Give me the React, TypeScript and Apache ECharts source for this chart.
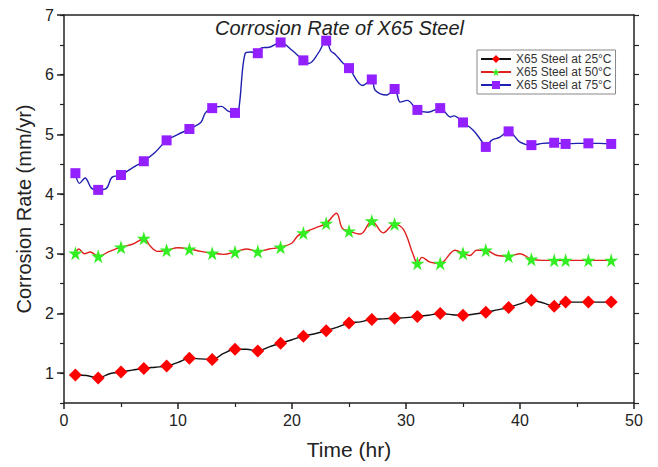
import React, { useEffect, useRef } from "react";
import * as echarts from "echarts";

// Marker positions (hours) shared by all three series
const markerHours = [1, 3, 5, 7, 9, 11, 13, 15, 17, 19, 21, 23, 25, 27, 29, 31, 33, 35, 37, 39, 41, 43, 44, 46, 48];

// Marker values (mm/yr)
const rate25 = [0.97, 0.92, 1.02, 1.08, 1.12, 1.25, 1.23, 1.40, 1.37, 1.50, 1.62, 1.71, 1.84, 1.90, 1.92, 1.95, 2.00, 1.97, 2.02, 2.10, 2.22, 2.12, 2.19, 2.19, 2.19];
const rate50 = [3.01, 2.96, 3.11, 3.26, 3.06, 3.08, 3.01, 3.03, 3.04, 3.11, 3.35, 3.51, 3.38, 3.55, 3.50, 2.84, 2.84, 3.01, 3.06, 2.96, 2.91, 2.89, 2.89, 2.89, 2.89];
const rate75 = [4.35, 4.07, 4.32, 4.55, 4.90, 5.09, 5.44, 5.36, 6.36, 6.54, 6.24, 6.57, 6.11, 5.92, 5.76, 5.41, 5.44, 5.20, 4.79, 5.05, 4.82, 4.86, 4.84, 4.85, 4.84];

const curve25Hours = [2, 4, 6, 8, 10, 12, 14, 16, 18, 20, 22, 24, 26, 28, 30, 32, 34, 36, 38, 40, 42, 45, 47];
const curve25Values = [0.96, 0.99, 1.05, 1.10, 1.18, 1.24, 1.33, 1.40, 1.44, 1.56, 1.66, 1.77, 1.86, 1.91, 1.93, 1.97, 1.98, 1.99, 2.06, 2.16, 2.18, 2.19, 2.19];

const curve50Hours = [1.3, 1.8, 2.3, 4, 6, 6.6, 7.6, 8.2, 10, 12, 14, 16, 18, 20, 20.5, 22, 23.9, 24.4, 26, 28, 29.8, 30.6, 31.4, 32.1, 34.3, 35.6, 36.2, 38, 40, 42, 45, 47];
const curve50Values = [3.08, 3.00, 3.03, 3.04, 3.16, 3.22, 3.12, 3.04, 3.10, 3.04, 2.99, 3.08, 3.08, 3.18, 3.30, 3.43, 3.68, 3.43, 3.33, 3.35, 3.40, 3.00, 2.94, 2.86, 3.06, 2.97, 3.06, 2.97, 3.00, 2.89, 2.89, 2.89];

const curve75Hours = [1.35, 1.85, 2.4, 3.7, 4.2, 6, 8, 10, 12, 12.4, 13.8, 14.4, 15.3, 15.9, 16.4, 17.3, 18, 20, 21.5, 22.3, 23.4, 23.8, 24.4, 26.2, 27.3, 28.3, 29.5, 30.1, 31.9, 33.9, 34.2, 35.9, 36.7, 37.5, 38.2, 40, 42, 45, 47];
const curve75Values = [4.18, 4.27, 4.10, 4.09, 4.28, 4.44, 4.70, 5.00, 5.20, 5.36, 5.47, 5.39, 5.38, 6.36, 6.38, 6.45, 6.46, 6.41, 6.19, 6.36, 6.40, 6.34, 6.21, 5.82, 5.74, 5.66, 5.54, 5.57, 5.37, 5.29, 5.31, 5.07, 4.87, 4.90, 4.95, 4.87, 4.85, 4.85, 4.85];

const seriesNames = ["X65 Steel at 25°C", "X65 Steel at 50°C", "X65 Steel at 75°C"];
const xTicks = { min: 0, max: 50, interval: 10 };
const yMajorLabels = [1, 2, 3, 4, 5, 6, 7];

const STAR = "path://M50,0 L61,35 L98,35 L68,57 L79,91 L50,70 L21,91 L32,57 L2,35 L39,35 Z";

function buildData(mh: number[], mv: number[], ch: number[], cv: number[]) {
  const pts: any[] = [];
  mh.forEach((h, i) => pts.push({ value: [h, mv[i]] }));
  ch.forEach((h, i) => pts.push({ value: [h, cv[i]], symbol: "none" }));
  pts.sort((a, b) => a.value[0] - b.value[0]);
  return pts;
}

export default function App() {
  const ref = useRef<HTMLDivElement>(null);
  useEffect(() => {
    if (!ref.current) return;
    const chart = echarts.init(ref.current, null, { renderer: "svg" });
    const font = "Liberation Sans, Arial, sans-serif";
    const axisColor = "#222";
    chart.setOption({
      animation: false,
      backgroundColor: "#fff",
      textStyle: { fontFamily: font },
      title: {
        text: "Corrosion Rate of X65 Steel",
        left: 210,
        top: 13,
        textStyle: { fontFamily: font, fontStyle: "italic", fontWeight: "normal", fontSize: 20, color: "#222" },
      },
      legend: {
        orient: "vertical",
        left: 477,
        top: 50,
        padding: [3, 4, 3, 3],
        itemGap: 1,
        itemWidth: 30,
        itemHeight: 10,
        borderColor: "#888",
        borderWidth: 1,
        textStyle: { fontFamily: font, fontSize: 12, color: "#333", lineHeight: 12 },
        data: seriesNames,
      },
      grid: { left: 64, right: 24, top: 15, bottom: 64, containLabel: false },
      xAxis: [
        {
          type: "value",
          min: xTicks.min,
          max: xTicks.max,
          interval: xTicks.interval,
          name: "Time (hr)",
          nameLocation: "middle",
          nameGap: 36,
          nameTextStyle: { fontFamily: font, fontSize: 21, color: "#222" },
          axisLine: { show: true, lineStyle: { color: axisColor, width: 1.5 } },
          axisTick: { show: true, length: 6, lineStyle: { color: axisColor, width: 1.5 } },
          minorTick: { show: true, splitNumber: 2, length: 4, lineStyle: { color: axisColor, width: 1.2 } },
          axisLabel: { fontFamily: font, fontSize: 16, color: "#222", margin: 9 },
          splitLine: { show: false },
        },
        {
          type: "value",
          position: "top",
          min: xTicks.min,
          max: xTicks.max,
          interval: xTicks.interval,
          axisLine: { show: true, lineStyle: { color: axisColor, width: 1.5 } },
          axisTick: { show: false },
          axisLabel: { show: false },
          splitLine: { show: false },
        },
      ],
      yAxis: [
        {
          type: "value",
          min: 0.5,
          max: 7,
          interval: 0.5,
          name: "Corrosion Rate (mm/yr)",
          nameLocation: "middle",
          nameGap: 29,
          nameTextStyle: { fontFamily: font, fontSize: 20, color: "#222" },
          axisLine: { show: true, lineStyle: { color: axisColor, width: 1.5 } },
          axisTick: { show: true, length: 4, lineStyle: { color: axisColor, width: 1.2 } },
          axisLabel: {
            fontFamily: font,
            fontSize: 16,
            color: "#222",
            margin: 10,
            formatter: (v: number) => (v % 1 === 0 ? String(v) : ""),
          },
          splitLine: { show: false },
        },
        {
          type: "value",
          position: "left",
          min: 0.5,
          max: 7,
          axisLine: { show: false },
          axisTick: { show: true, length: 7, customValues: yMajorLabels, lineStyle: { color: axisColor, width: 1.5 } },
          axisLabel: { show: false },
          splitLine: { show: false },
        },
        {
          type: "value",
          position: "right",
          min: 0.5,
          max: 7,
          interval: 0.5,
          axisLine: { show: true, lineStyle: { color: axisColor, width: 1.5 } },
          axisTick: { show: true, length: 5, lineStyle: { color: axisColor, width: 1.2 } },
          axisLabel: { show: false },
          splitLine: { show: false },
        },
      ],
      series: [
        {
          name: seriesNames[0],
          type: "line",
          smooth: 0.35,
          symbol: "diamond",
          symbolSize: 13,
          showAllSymbol: true,
          lineStyle: { color: "#111", width: 1.4 },
          itemStyle: { color: "#ff0000" },
          data: buildData(markerHours, rate25, curve25Hours, curve25Values),
          z: 3,
        },
        {
          name: seriesNames[1],
          type: "line",
          smooth: 0.35,
          symbol: STAR,
          symbolSize: 14,
          showAllSymbol: true,
          lineStyle: { color: "#e0201c", width: 1.4 },
          itemStyle: { color: "#33ee22" },
          data: buildData(markerHours, rate50, curve50Hours, curve50Values),
          z: 3,
        },
        {
          name: seriesNames[2],
          type: "line",
          smooth: 0.35,
          symbol: "rect",
          symbolSize: 10,
          showAllSymbol: true,
          lineStyle: { color: "#1f1fb0", width: 1.4 },
          itemStyle: { color: "#9320ff" },
          data: buildData(markerHours, rate75, curve75Hours, curve75Values),
          z: 3,
        },
      ],
    });
    return () => chart.dispose();
  }, []);
  return <div ref={ref} style={{ position: "fixed", left: 0, top: 0, width: 658, height: 467 }} />;
}
